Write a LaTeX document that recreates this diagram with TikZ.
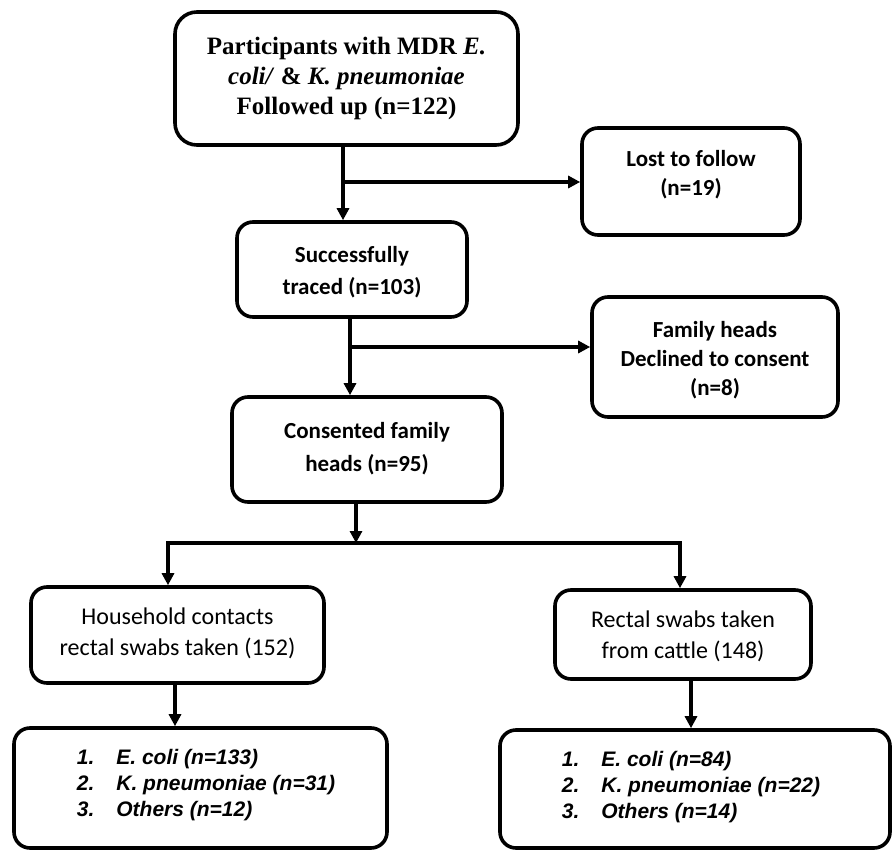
\documentclass[tikz,border=0pt]{standalone}
\usepackage{fontspec}
\setmainfont{Liberation Serif}
\newfontfamily\calfont{Carlito}
\newfontfamily\arialfont{Liberation Sans}
\usetikzlibrary{arrows.meta}
\begin{document}
\begin{tikzpicture}[x=1pt,y=-1pt,
  box/.style={draw, line width=3.6pt, rounded corners=16pt, align=center, inner sep=0pt},
  label/.style={align=center, inner sep=0pt},
  serifbox/.style={box, font=\fontsize{25}{30}\selectfont\bfseries},
  calbtext/.style={label, font=\calfont\fontsize{23}{29}\selectfont\bfseries},
  calrtext/.style={label, font=\calfont\fontsize{24}{31}\selectfont},
  listtext/.style={label, font=\arialfont\fontsize{21}{26}\selectfont\bfseries\itshape},
  conn/.style={line width=3.4pt},
  arr/.style={conn, -{Triangle[length=12pt,width=12pt]}}
]
\useasboundingbox (0,0) rectangle (892,851);
\fill[white] (0,0) rectangle (892,851);

\node[serifbox, rounded corners=22pt, minimum width=343pt, minimum height=133pt] (top) at (346.5,78.5)
  {Participants with MDR \textit{E.}\\ \textit{coli/} \& \textit{K. pneumoniae}\\ Followed up (n=122)};
\node[box, minimum width=218pt, minimum height=107pt] (lost) at (691,181.5) {};
\node[calbtext] (losttxt) at (691,175) {Lost to follow\\ (n=19)};
\node[box, minimum width=230pt, minimum height=95pt] (traced) at (352,269.5) {};
\node[calbtext, font=\calfont\fontsize{23}{32}\selectfont\bfseries] (tracedtxt) at (352,272) {Successfully\\ traced (n=103)};
\node[box, minimum width=246pt, minimum height=120pt] (family) at (715,357) {};
\node[calbtext] (familytxt) at (715,360) {Family heads\\ Declined to consent\\ (n=8)};
\node[box, minimum width=270pt, minimum height=105pt] (consented) at (367,449.5) {};
\node[calbtext, font=\calfont\fontsize{23}{33}\selectfont\bfseries] (consentedtxt) at (367,449) {Consented family\\ heads (n=95)};
\node[box, minimum width=293pt, minimum height=96pt] (household) at (177.5,635) {};
\node[calrtext] (householdtxt) at (177.5,633) {Household contacts\\ rectal swabs taken (152)};
\node[box, minimum width=256pt, minimum height=89pt] (cattle) at (683,634.5) {};
\node[calrtext] (cattletxt) at (683,636) {Rectal swabs taken\\ from cattle (148)};
\node[box, minimum width=373pt, minimum height=120pt] (listl) at (200.5,788) {};
\node[listtext] (listltxt) at (206,785)
  {\begin{tabular}{@{}l@{\hspace{22pt}}l@{}}
   1. & E. coli (n=133)\\ 2. & K. pneumoniae (n=31)\\ 3. & Others (n=12)
   \end{tabular}};
\node[box, minimum width=390pt, minimum height=118pt] (listr) at (695,789) {};
\node[listtext] (listrtxt) at (691,787)
  {\begin{tabular}{@{}l@{\hspace{22pt}}l@{}}
   1. & E. coli (n=84)\\ 2. & K. pneumoniae (n=22)\\ 3. & Others (n=14)
   \end{tabular}};

\coordinate (j1) at (343,182);
\coordinate (j2) at (350,347);
\coordinate (j3) at (356,543);
\coordinate (jl) at (168,543);
\coordinate (jr) at (680,543);
\coordinate (k1) at (175,700);
\coordinate (k2) at (691,700);

\draw[arr] (top.south -| j1) -- (traced.north -| j1);
\draw[arr] (j1) -- (lost.west |- j1);
\draw[arr] (traced.south -| j2) -- (consented.north -| j2);
\draw[arr] (j2) -- (family.west |- j2);
\draw[arr] (consented.south -| j3) -- (j3);
\draw[arr] (j3) -- (jl) -- (household.north -| jl);
\draw[arr] (j3) -- (jr) -- (cattle.north -| jr);
\draw[arr] (household.south -| k1) -- (listl.north -| k1);
\draw[arr] (cattle.south -| k2) -- (listr.north -| k2);
\end{tikzpicture}
\end{document}
